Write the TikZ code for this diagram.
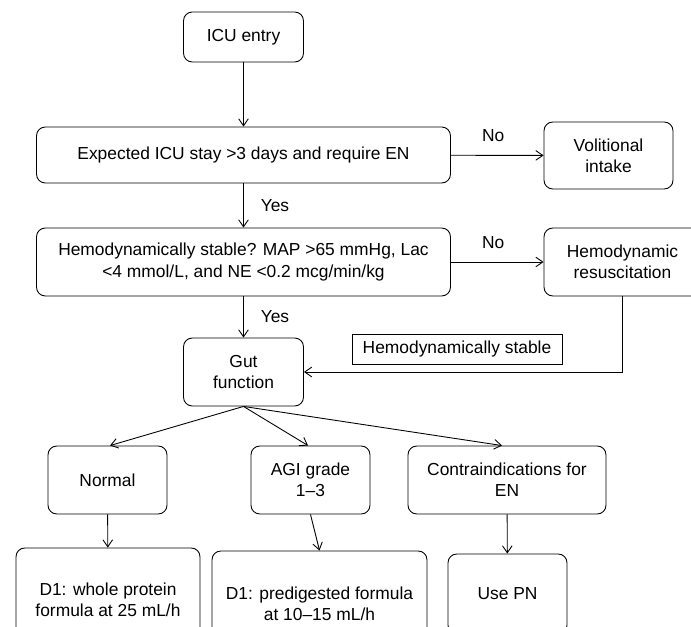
\documentclass[tikz,border=0pt]{standalone}
\usepackage{fontspec}
\setmainfont{Liberation Sans}
\usetikzlibrary{arrows.meta}

\begin{document}
\begin{tikzpicture}[
    box/.style={rectangle, draw, rounded corners=5pt, line width=0.5pt,
                align=center, inner sep=0pt,
                font=\fontsize{9.9}{12}\selectfont},
    tag/.style={rectangle, draw, line width=0.5pt, inner sep=0pt,
                font=\fontsize{9.9}{12}\selectfont},
    lbl/.style={font=\fontsize{9.9}{12}\selectfont},
    arr/.style={-{Straight Barb[length=4pt,width=5.5pt]}, line width=0.5pt},
  ]
  \clip (0,0) rectangle (13.82,-12.54);

  % ── Admission and stability checks ───────────────
  \node[box, minimum width=2.4cm,  minimum height=1.0cm]  (icu)    at ( 4.87,-0.74) {ICU entry};
  \node[box, minimum width=8.28cm, minimum height=1.12cm] (stay)   at ( 4.87,-3.10)
        {Expected ICU stay >3 days and require EN};
  \node[box, minimum width=2.58cm, minimum height=1.34cm] (vol)    at (12.17,-3.11)
        {Volitional\\intake};
  \node[box, minimum width=8.28cm, minimum height=1.36cm] (hemo)   at ( 4.87,-5.24)
        {Hemodynamically stable? MAP >65 mmHg, Lac\\<4 mmol/L, and NE <0.2 mcg/min/kg};
  \node[box, minimum width=3.14cm, minimum height=1.36cm] (resus)  at (12.45,-5.24)
        {Hemodynamic\\resuscitation};

  \draw[arr] (icu) -- (stay);
  \draw[arr] (stay) -- node[lbl, above=0.15cm, xshift=-0.08cm]{No} (vol);
  \draw[arr] (stay) -- node[lbl, right=0.22cm]{Yes} (hemo);
  \draw[arr] (hemo) -- node[lbl, above=0.15cm, xshift=-0.08cm]{No} (resus);

  % ── Gut function ─────────────────────────────────
  \node[box, minimum width=2.4cm, minimum height=1.36cm] (gut)    at ( 4.87,-7.44)
        {Gut\\function};
  \node[tag, minimum width=4.2cm, minimum height=0.6cm]  (stable) at ( 9.14,-6.98)
        {Hemodynamically stable};

  \draw[arr] (hemo) -- node[lbl, right=0.22cm]{Yes} (gut);
  \draw[arr] (resus.south) |- (gut.east);

  % ── Branches and day-1 feeding ───────────────────
  \node[box, minimum width=2.38cm, minimum height=1.36cm] (normal) at ( 2.15,-9.60) {Normal};
  \node[box, minimum width=2.38cm, minimum height=1.36cm] (agi)    at ( 6.21,-9.60)
        {AGI grade\\1--3};
  \node[box, minimum width=3.96cm, minimum height=1.36cm] (contra) at (10.14,-9.60)
        {Contraindications for\\EN};

  \node[box, minimum width=3.68cm, minimum height=2.08cm] (whole)  at ( 2.16,-12.00)
        {D1: whole protein\\formula at 25 mL/h};
  \node[box, minimum width=4.3cm,  minimum height=2.1cm]  (predig) at ( 6.39,-12.07)
        {D1: predigested formula\\at 10--15 mL/h};
  \node[box, minimum width=2.38cm, minimum height=1.6cm]  (pn)     at (10.15,-11.88) {Use PN};

  \draw[arr] (gut.south) -- ([xshift=0.05cm]normal.north);
  \draw[arr] (gut.south) -- ([xshift=-0.05cm]agi.north);
  \draw[arr] (gut.south) -- ([xshift=-0.1cm]contra.north);

  \draw[arr] (normal) -- (whole);
  \draw[arr] (agi.south) -- (predig.north);
  \draw[arr] (contra) -- (pn);

\end{tikzpicture}
\end{document}
